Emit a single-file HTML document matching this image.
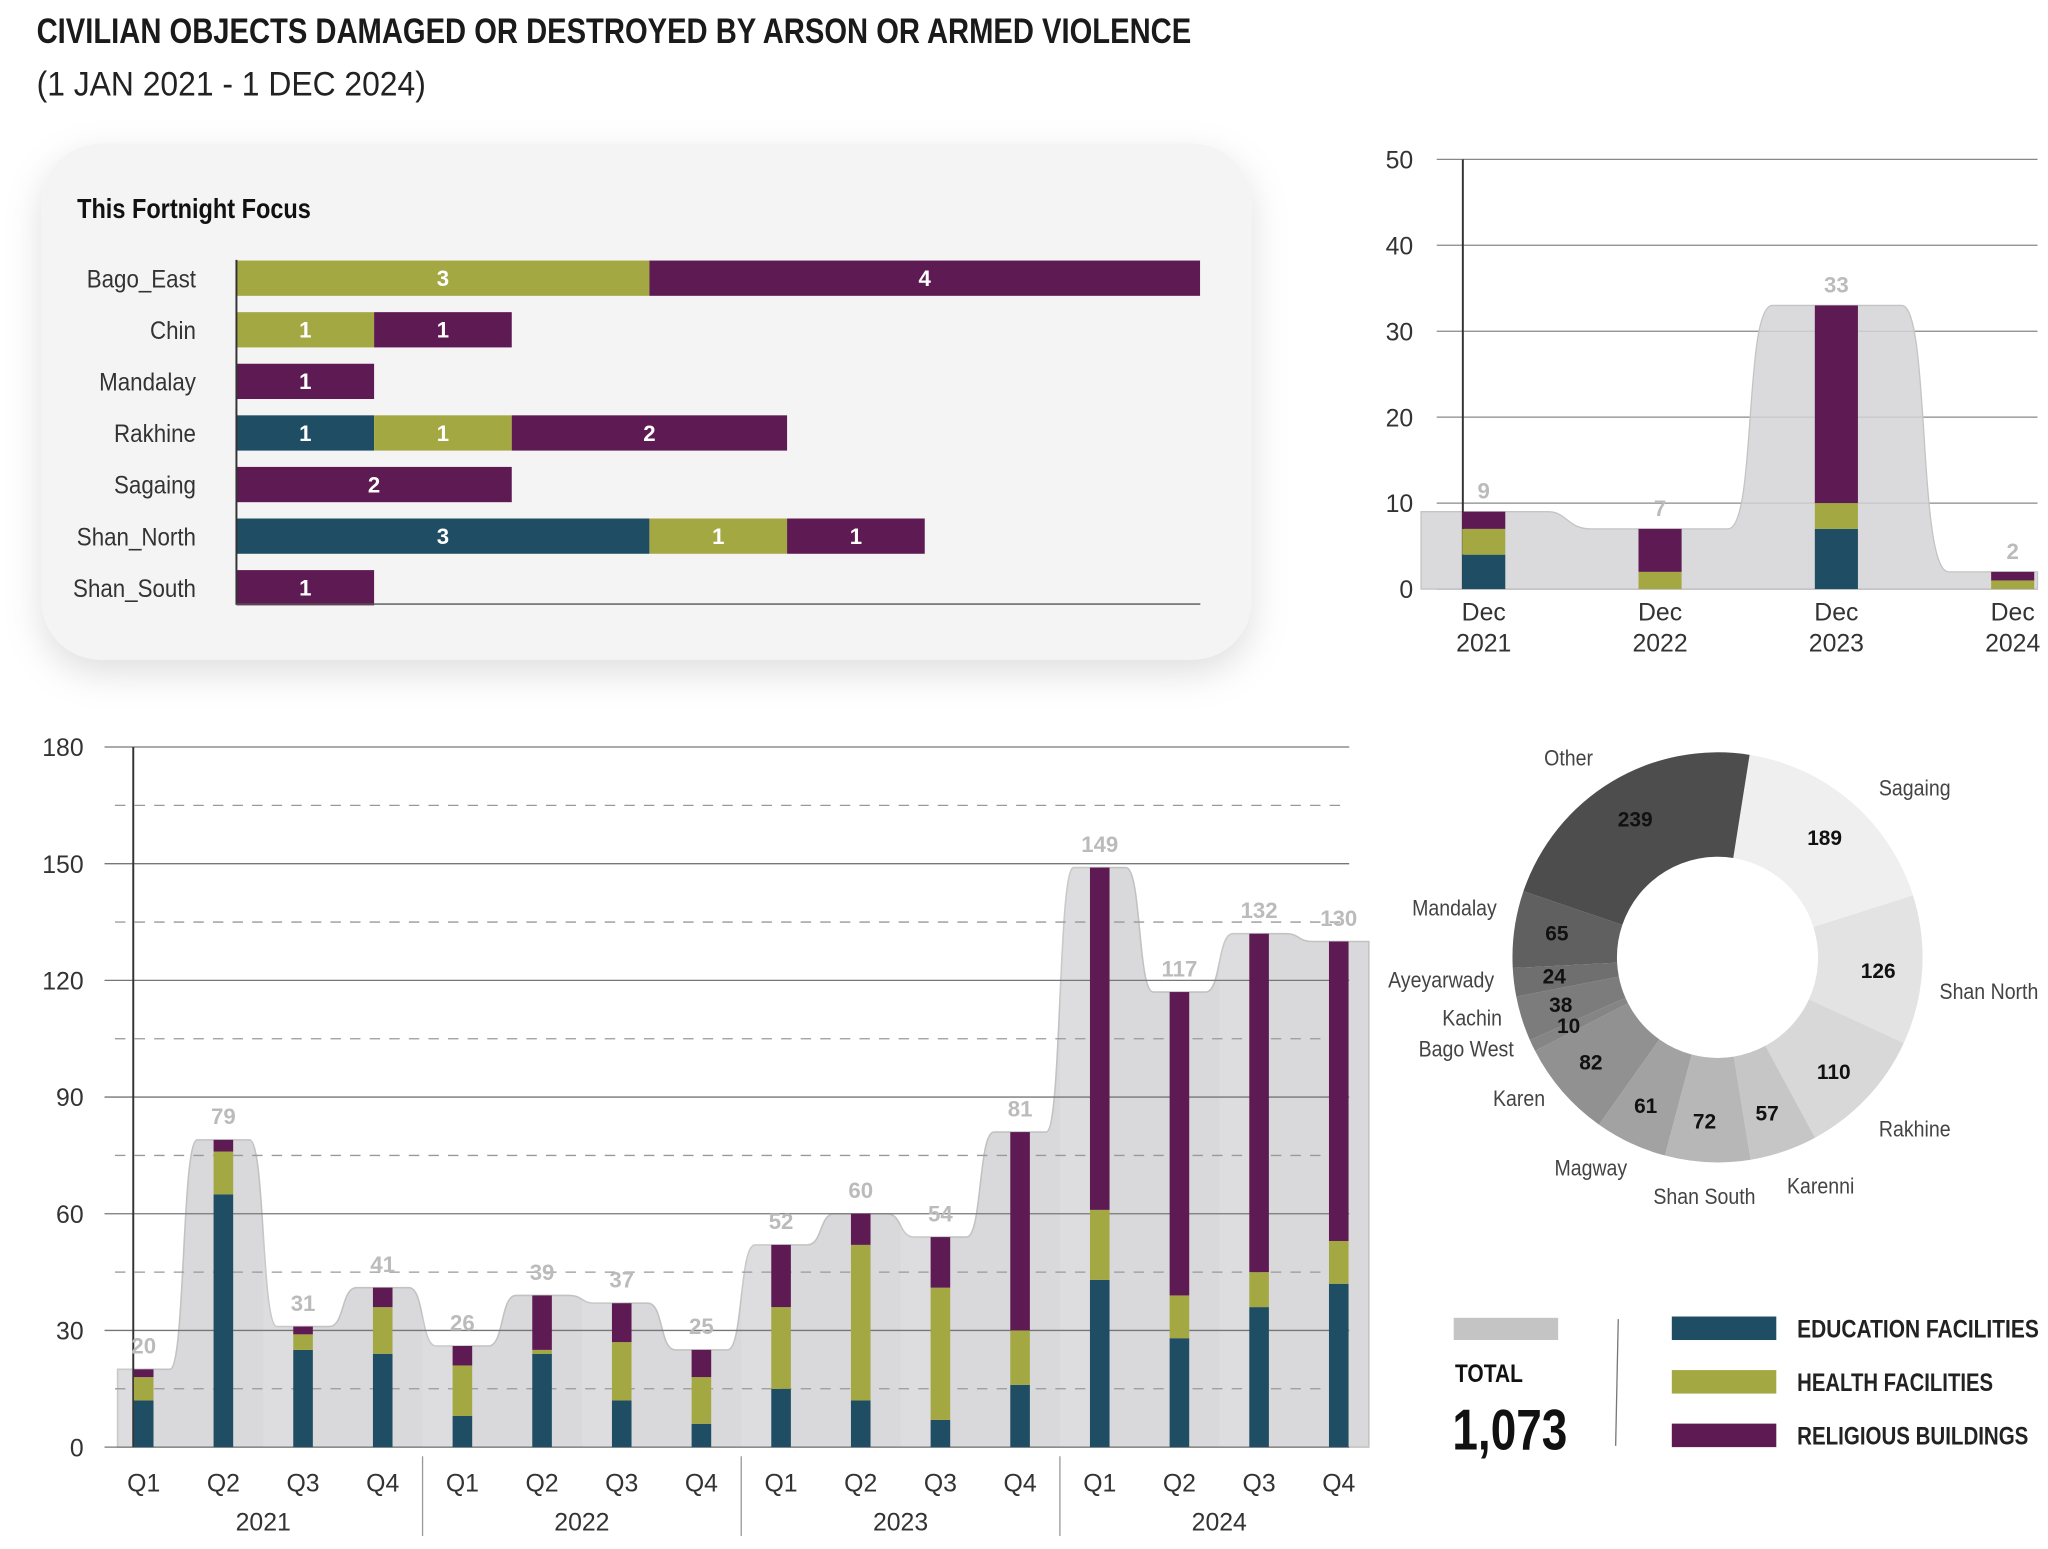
<!DOCTYPE html>
<html><head><meta charset="utf-8">
<style>
html,body{margin:0;padding:0;background:#fff;}
svg{display:block;}
text{font-family:"Liberation Sans Narrow","Liberation Sans",sans-serif;}
</style></head>
<body>
<svg id="s" width="2048" height="1549" viewBox="0 0 1568 1186" xmlns="http://www.w3.org/2000/svg">
<defs>
<filter id="sh" x="-10%" y="-10%" width="120%" height="130%"><feDropShadow dx="0" dy="10" stdDeviation="14" flood-color="#000" flood-opacity="0.13"/></filter>
</defs>
<text x="28" y="33" font-size="27" font-weight="bold" fill="#1a1a1a" textLength="884" lengthAdjust="spacingAndGlyphs">CIVILIAN OBJECTS DAMAGED OR DESTROYED BY ARSON OR ARMED VIOLENCE</text>
<text x="28" y="73" font-size="26" fill="#222" textLength="298" lengthAdjust="spacingAndGlyphs">(1 JAN 2021 - 1 DEC 2024)</text>
<rect x="32" y="110" width="926" height="395" rx="45" fill="#f4f4f4" filter="url(#sh)"/>
<text x="59" y="167" font-size="21" font-weight="bold" fill="#111" textLength="179" lengthAdjust="spacingAndGlyphs">This Fortnight Focus</text>
<g id="g"></g>
</svg>
<script>
const NS="http://www.w3.org/2000/svg",G=document.getElementById('g');
function el(t,a,txt){const e=document.createElementNS(NS,t);for(const k in a)e.setAttribute(k,a[k]);if(txt!=null)e.textContent=txt;G.appendChild(e);return e;}
const C=['#1f4d63','#a3a843','#5e1a52'];
const rows=[['Bago_East',[0,3,4]],['Chin',[0,1,1]],['Mandalay',[0,0,1]],['Rakhine',[1,1,2]],['Sagaing',[0,0,2]],['Shan_North',[3,1,1]],['Shan_South',[0,0,1]]];
const u=105.4;
rows.forEach((r,i)=>{const y=213+i*39.5;const t=el('text',{x:150,y:y+7,'font-size':19,fill:'#333','text-anchor':'end'},r[0]);
t.setAttribute('transform',`translate(150 0) scale(0.9 1) translate(-150 0)`);
let x=181;r[1].forEach((v,j)=>{if(!v)return;el('rect',{x:x,y:y-13.5,width:v*u,height:27,fill:C[j]});el('text',{x:x+v*u/2,y:y+6,'font-size':17,'font-weight':'bold',fill:'#fff','text-anchor':'middle'},v);x+=v*u;});});
el('line',{x1:181,y1:199,x2:181,y2:463,stroke:'#333','stroke-width':1.5});
el('line',{x1:181,y1:462.5,x2:919,y2:462.5,stroke:'#555','stroke-width':1});
const Y2=v=>451-v*6.58;
for(let v=0;v<=50;v+=10){el('line',{x1:1100,y1:Y2(v),x2:1560,y2:Y2(v),stroke:'#888','stroke-width':1});el('text',{x:1082,y:Y2(v)+7,'font-size':19,fill:'#333','text-anchor':'end'},v);}
el('path',{d:`M1088 451 L1088 ${Y2(9)} L1185 ${Y2(9)} C1200 ${Y2(9)},1200 ${Y2(7)},1218 ${Y2(7)} L1323 ${Y2(7)} C1345 ${Y2(7)},1335 ${Y2(33)},1357 ${Y2(33)} L1456 ${Y2(33)} C1478 ${Y2(33)},1468 ${Y2(2)},1492 ${Y2(2)} L1560 ${Y2(2)} L1560 451 Z`,fill:'#d4d4d6','fill-opacity':0.85,stroke:'#c4c4c4'});
el('line',{x1:1120,y1:122,x2:1120,y2:451,stroke:'#333','stroke-width':1.5});
const d2=[[1136,[4,3,2],'2021'],[1271,[0,2,5],'2022'],[1406,[7,3,23],'2023'],[1541,[0,1,1],'2024']];
d2.forEach(d=>{let b=0;d[1].forEach((v,j)=>{if(!v)return;el('rect',{x:d[0]-16.5,y:Y2(b+v),width:33,height:v*6.58,fill:C[j]});b+=v;});
el('text',{x:d[0],y:Y2(b)-10,'font-size':17,'font-weight':'bold',fill:'#bbb','text-anchor':'middle'},b);
el('text',{x:d[0],y:475,'font-size':19,fill:'#333','text-anchor':'middle'},'Dec');el('text',{x:d[0],y:499,'font-size':19,fill:'#333','text-anchor':'middle'},d[2]);});
const Y=v=>1108-v*2.978;
const data=[[12,6,2],[65,11,3],[25,4,2],[24,12,5],[8,13,5],[24,1,14],[12,15,10],[6,12,7],[15,21,16],[12,40,8],[7,34,13],[16,14,51],[43,18,88],[28,11,78],[36,9,87],[42,11,77]];
const cx=i=>110+i*61;
const tot=data.map(d=>d[0]+d[1]+d[2]);
let p=`M90 1108 L90 ${Y(tot[0])}`;
tot.forEach((t,i)=>{const c=cx(i);p+=` L${c+20} ${Y(t)}`;if(i<15){const n=tot[i+1],nc=cx(i+1);p+=` C${c+32} ${Y(t)},${nc-32} ${Y(n)},${nc-20} ${Y(n)}`;}});
p+=` L1048 ${Y(tot[15])} L1048 1108 Z`;
el('path',{d:p,fill:'#d9d9db',stroke:'#c2c2c2','stroke-width':1.2});
for(let i=0;i<16;i+=2)el('rect',{x:cx(i)-30.5,y:560,width:30.5,height:548,fill:'#fff','fill-opacity':0.12});
for(let v=0;v<=180;v+=15){const s=v%30==0;el('line',{x1:s?80:88,y1:Y(v),x2:1033,y2:Y(v),stroke:s?'#777':'#999','stroke-width':1,'stroke-dasharray':s?'':'8 7'});if(s)el('text',{x:64,y:Y(v)+7,'font-size':19,fill:'#333','text-anchor':'end'},v);}
el('line',{x1:102,y1:572,x2:102,y2:1108,stroke:'#333','stroke-width':1.5});
data.forEach((d,i)=>{let b=0;d.forEach((v,j)=>{el('rect',{x:cx(i)-7.5,y:Y(b+v),width:15,height:v*2.978,fill:C[j]});b+=v;});
el('text',{x:cx(i),y:Y(b)-12,'font-size':17,'font-weight':'bold',fill:'#bbb','text-anchor':'middle'},b);
el('text',{x:cx(i),y:1142,'font-size':19,fill:'#333','text-anchor':'middle'},'Q'+(i%4+1));});
['2021','2022','2023','2024'].forEach((yr,k)=>{el('text',{x:(cx(4*k)+cx(4*k+3))/2,y:1172,'font-size':19,fill:'#333','text-anchor':'middle'},yr);if(k)el('line',{x1:cx(4*k)-30.5,y1:1115,x2:cx(4*k)-30.5,y2:1176,stroke:'#999'});});
const dn=[['Sagaing',189,'#efefef'],['Shan North',126,'#e3e3e3'],['Rakhine',110,'#d8d8d8'],['Karenni',57,'#c6c6c6'],['Shan South',72,'#b7b7b7'],['Magway',61,'#a2a2a2'],['Karen',82,'#919191'],['Bago West',10,'#858585'],['Kachin',38,'#7c7c7c'],['Ayeyarwady',24,'#6f6f6f'],['Mandalay',65,'#606060'],['Other',239,'#4d4d4d']];
const ox=1315,oy=733,R=157,r=77;let a=9*Math.PI/180;
dn.forEach(d=>{const a2=a+d[1]/1073*2*Math.PI;const P=(rr,t)=>[ox+rr*Math.sin(t),oy-rr*Math.cos(t)];
const [x1,y1]=P(R,a),[x2,y2]=P(R,a2),[x3,y3]=P(r,a2),[x4,y4]=P(r,a);const lg=a2-a>Math.PI?1:0;
el('path',{d:`M${x1} ${y1} A${R} ${R} 0 ${lg} 1 ${x2} ${y2} L${x3} ${y3} A${r} ${r} 0 ${lg} 0 ${x4} ${y4}Z`,fill:d[2]});a=a2;});
const vl=[[239,1252,633],[189,1397,647],[126,1438,749],[110,1404,826],[57,1353,858],[72,1305,864],[61,1260,852],[82,1218,819],[10,1201,791],[38,1195,775],[24,1190,753],[65,1192,720]];
vl.forEach(v=>el('text',{x:v[1],y:v[2],'font-size':16,'font-weight':'bold',fill:'#111','text-anchor':'middle'},v[0]));
const nl=[['Other',1201,586,'middle'],['Sagaing',1466,609,'middle'],['Shan North',1485,765,'start'],['Rakhine',1466,870,'middle'],['Karenni',1394,914,'middle'],['Shan South',1305,922,'middle'],['Magway',1218,900,'middle'],['Karen',1183,847,'end'],['Bago West',1159,809,'end'],['Kachin',1150,785,'end'],['Ayeyarwady',1144,756,'end'],['Mandalay',1146,701,'end']];
nl.forEach(n=>{const t=el('text',{x:n[1],y:n[2],'font-size':17,fill:'#444','text-anchor':n[3]},n[0]);t.setAttribute('transform',`translate(${n[1]} 0) scale(0.88 1) translate(${-n[1]} 0)`);});
el('rect',{x:1113,y:1009,width:80,height:17,fill:'#c4c4c4'});
el('text',{x:1114,y:1058,'font-size':19,'font-weight':'bold',fill:'#111',textLength:52,lengthAdjust:'spacingAndGlyphs'},'TOTAL');
el('text',{x:1112,y:1110,'font-size':44,'font-weight':'bold',fill:'#111',textLength:88,lengthAdjust:'spacingAndGlyphs'},'1,073');
el('line',{x1:1239,y1:1010,x2:1237,y2:1107,stroke:'#777'});
[['EDUCATION FACILITIES',1008,185],['HEALTH FACILITIES',1049,150],['RELIGIOUS BUILDINGS',1090,177]].forEach((l,i)=>{el('rect',{x:1280,y:l[1],width:80,height:18,fill:C[i]});el('text',{x:1376,y:l[1]+16,'font-size':19,'font-weight':'bold',fill:'#222',textLength:l[2],lengthAdjust:'spacingAndGlyphs'},l[0]);});
</script>
</body></html>
